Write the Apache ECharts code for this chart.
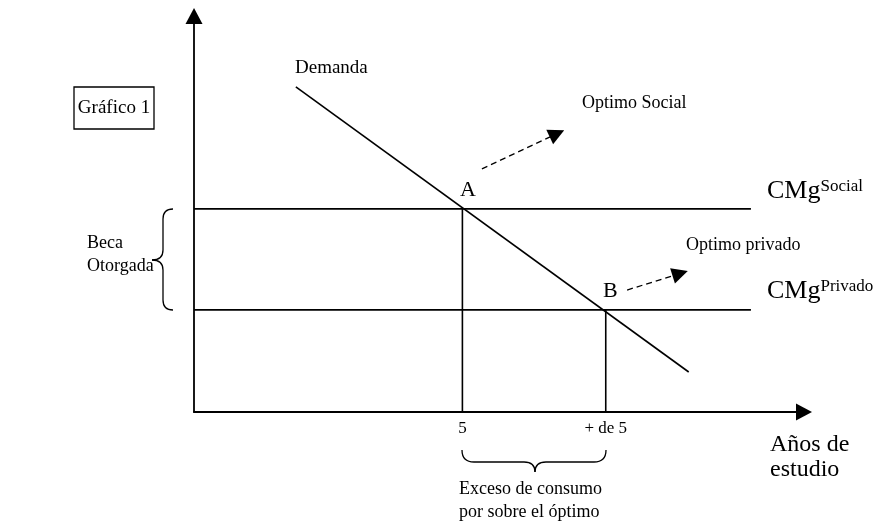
<!DOCTYPE html>
<html><head><meta charset="utf-8">
<script src="https://cdn.jsdelivr.net/npm/echarts@6/dist/echarts.min.js"></script>
<style>html,body{margin:0;padding:0;background:#fff}#c{width:885px;height:525px}</style>
</head><body><div id="c"></div>
<script>
const F = 'Liberation Serif, Times New Roman, serif';
// data (abstract units: x 0-100, y 0-100)
const demandX = [16.7, 81.1];
const demandY = [82.1, 10.1];
const cmgSocialY = 51.3;
const cmgPrivadoY = 25.8;
const lineEndX = 91.3;
const pointAX = 44.0;
const pointBX = 67.5;
const tickValues = [44.0, 67.5];
const tickLabels = ['5', '+ de 5'];
const arrowSocial = [[47.2, 61.4], [59.5, 70.3]];
const arrowPrivado = [[71.0, 30.8], [79.7, 35.0]];

const black = '#000';
const lw = 1.6;
function seg(pts) {
  return { type: 'line', data: pts, symbol: 'none', silent: true, animation: false,
    lineStyle: { color: black, width: lw }, z: 3 };
}
const series = [
  seg([[demandX[0], demandY[0]], [demandX[1], demandY[1]]]),
  seg([[0, cmgSocialY], [lineEndX, cmgSocialY]]),
  seg([[0, cmgPrivadoY], [lineEndX, cmgPrivadoY]]),
  seg([[pointAX, 0], [pointAX, cmgSocialY]]),
  seg([[pointBX, 0], [pointBX, cmgPrivadoY]]),
  { type: 'lines', coordinateSystem: 'cartesian2d', animation: false, silent: true,
    symbol: ['none', 'triangle'], symbolSize: [13, 16],
    lineStyle: { color: black, width: 1.3, type: [6, 4], opacity: 1 },
    data: [{ coords: arrowSocial }, { coords: arrowPrivado }] }
];

const chart = echarts.init(document.getElementById('c'), null, { renderer: 'canvas' });
const txt = (x, y, t, size, extra) => Object.assign({ type: 'text', x: x, y: y,
  style: Object.assign({ text: t, font: size + 'px ' + F, fill: black, textVerticalAlign: 'middle' }, extra || {}) });
const bz = (x1, y1, cx, cy, x2, y2) => ({ type: 'bezierCurve',
  shape: { x1: x1, y1: y1, cpx1: cx, cpy1: cy, x2: x2, y2: y2 }, style: { fill: null, stroke: black, lineWidth: 1.3 } });
const ln = (x1, y1, x2, y2) => ({ type: 'line', shape: { x1: x1, y1: y1, x2: x2, y2: y2 }, style: { stroke: black, lineWidth: 1.3 } });
chart.setOption({
  animation: false,
  backgroundColor: '#fff',
  grid: { left: 194, right: 81, top: 16, bottom: 113 },
  xAxis: { type: 'value', min: 0, max: 100,
    axisLine: { show: true, lineStyle: { color: black, width: 1.8 }, symbol: ['none', 'triangle'], symbolSize: [17, 16] },
    axisTick: { show: false }, splitLine: { show: false },
    axisLabel: { customValues: tickValues, margin: 8, fontFamily: F, fontSize: 17, color: black,
      formatter: v => { const i = tickValues.indexOf(v); return i >= 0 ? tickLabels[i] : ''; } } },
  yAxis: { type: 'value', min: 0, max: 100,
    axisLine: { show: true, lineStyle: { color: black, width: 1.8 }, symbol: ['none', 'triangle'], symbolSize: [17, 16] },
    axisTick: { show: false }, splitLine: { show: false }, axisLabel: { show: false } },
  series: series,
  graphic: [
    { type: 'rect', shape: { x: 74, y: 87, width: 80, height: 42 }, style: { fill: '#fff', stroke: black, lineWidth: 1.3 } },
    txt(114, 108, 'Gráfico 1', 19, { textAlign: 'center' }),
    txt(295, 68, 'Demanda', 19),
    txt(582, 103, 'Optimo Social', 18),
    txt(686, 245, 'Optimo privado', 18),
    txt(460, 190, 'A', 22),
    txt(603, 291, 'B', 22),
    txt(87, 243, 'Beca', 18),
    txt(87, 266, 'Otorgada', 18),
    { type: 'text', x: 767, y: 178, style: { text: '{m|CMg}{s|Social}', rich: {
      m: { font: '26px ' + F, fill: black, verticalAlign: 'bottom' },
      s: { font: '17px ' + F, fill: black, verticalAlign: 'top' } } } },
    { type: 'text', x: 767, y: 278, style: { text: '{m|CMg}{s|Privado}', rich: {
      m: { font: '26px ' + F, fill: black, verticalAlign: 'bottom' },
      s: { font: '17px ' + F, fill: black, verticalAlign: 'top' } } } },
    txt(770, 445, 'Años de', 24),
    txt(770, 470, 'estudio', 24),
    txt(459, 489, 'Exceso de consumo', 18),
    txt(459, 512, 'por sobre el óptimo', 18),
    bz(173, 209, 163, 209, 163, 219), ln(163, 219, 163, 250), bz(163, 250, 163, 260, 152, 260),
    bz(152, 260, 163, 260, 163, 270), ln(163, 270, 163, 300), bz(163, 300, 163, 310, 173, 310),
    bz(462, 450, 462, 462, 474, 462), ln(474, 462, 524, 462), bz(524, 462, 535, 462, 535, 472),
    bz(535, 472, 535, 462, 546, 462), ln(546, 462, 594, 462), bz(594, 462, 606, 462, 606, 450)
  ]
});
</script></body></html>
